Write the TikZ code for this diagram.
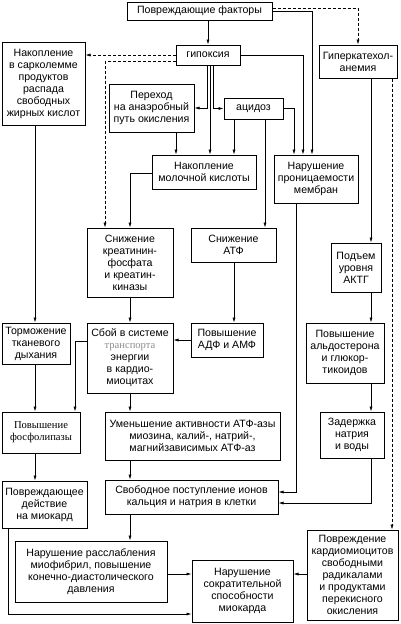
\documentclass[tikz,border=0pt]{standalone}
\usepackage{fontspec}
\setmainfont{Liberation Sans}
\newfontfamily\serifcyr{Liberation Serif}
\usepackage{xcolor}
\usepackage{tikz}
\usetikzlibrary{arrows.meta,positioning}
\tikzset{
	basic/.style = {draw, rectangle, line width=1pt, inner sep=0pt, align=center, font=\fontsize{10.6}{12}\selectfont},
	block/.style 2 args = {basic, minimum width=#1pt, minimum height=#2pt},
	link/.style = {->, line width=0.6pt},
	dlink/.style = {link, dash pattern=on 3pt off 2pt}
}
\newcommand{\grayword}[1]{{\serifcyr\color{black!45}#1}}

\begin{document}
\begin{tikzpicture}[x=1pt, y=-1pt, >={Latex[length=5pt,width=3pt]}]
	\useasboundingbox (0,0) rectangle (400,624);

	% top row
	\node[block={145}{18}] (pf) at (199.5,11) {Повреждающие факторы};
	\node[block={64}{20}] (gip) at (208,55) {гипоксия};
	\node[block={83}{83}] (sark) at (43.5,83.5) {Накопление\\в сарколемме\\продуктов\\распада\\свободных\\жирных кислот};
	\node[block={78}{33}] (giper) at (358,61.5) {Гиперкатехол-\\анемия};

	% hypoxia consequences
	\node[block={85}{48}] (anaer) at (151.5,108) {Переход\\на анаэробный\\путь окисления};
	\node[block={59}{21}] (acid) at (253.5,108.5) {ацидоз};
	\node[block={104}{34}] (moloch) at (204,172) {Накопление\\молочной кислоты};
	\node[block={84}{48}] (pron) at (316,179) {Нарушение\\проницаемости\\мембран};

	% energy block
	\node[block={86}{69}] (kreat) at (130,262.5) {Снижение\\креатинин-\\фосфата\\и креатин-\\киназы};
	\node[block={85}{34}] (atf) at (233.5,245) {Снижение\\АТФ};
	\node[block={50}{49}] (aktg) at (356,267.5) {Подъем\\уровня\\АКТГ};
	\node[block={68}{41}] (torm) at (36,343.5) {Торможение\\тканевого\\дыхания};
	\node[block={86}{70}] (sboy) at (130,358) {Сбой в системе\\\grayword{транспорта}\\энергии\\в кардио-\\миоцитах};
	\node[block={72}{34}] (adf) at (227,340) {Повышение\\АДФ и АМФ};
	\node[block={78}{60}] (aldo) at (345,353) {Повышение\\альдостерона\\и глюкор-\\тикоидов};

	% lower part
	\node[block={78}{41}, font=\serifcyr\fontsize{10.6}{12}\selectfont] (fosf) at (41,432.5) {Повышение\\фосфолипазы};
	\node[block={175}{48}] (umen) at (192.5,436) {Уменьшение активности АТФ-азы\\миозина, калий-, натрий-,\\магнийзависимых АТФ-аз};
	\node[block={64}{46}] (zader) at (352,435) {Задержка\\натрия\\и воды};
	\node[block={85}{47}] (povrd) at (44.5,504.5) {Повреждающее\\действие\\на миокард};
	\node[block={173}{34}] (svob) at (191.5,497) {Свободное поступление ионов\\кальция и натрия в клетки};
	\node[block={152}{61}] (rassl) at (91,571.5) {Нарушение расслабления\\миофибрил, повышение\\конечно-диастолического\\давления};
	\node[block={101}{62}] (sokr) at (242.5,591) {Нарушение\\сократительной\\способности\\миокарда};
	\node[block={91}{90}] (radik) at (352.5,575) {Повреждение\\кардиомиоцитов\\свободными\\радикалами\\и продуктами\\перекисного\\окисления};

	% connectors from the top
	\draw[link] (pf.south -| gip) -- (gip.north);
	\draw[dlink] (pf.east |- 0,8) -| (giper.north);
	\draw[link] (pf.east |- 0,11) -| (312,0 |- pron.north);
	\draw[link] (gip.east) -| (303,0 |- pron.north);
	\draw[link] (acid.east) -| (294,0 |- pron.north);
	\draw[dlink] (gip.west) -- (gip.west -| sark.east);
	\draw[dlink] (gip.west |- 0,61) -| (105,0 |- kreat.north);
	\draw[link] (207,0 |- gip.south) |- (anaer.east);
	\draw[link] (210,0 |- gip.south) -- (210,0 |- moloch.north);
	\draw[link] (213,0 |- gip.south) |- (acid.west);
	\draw[link] (176,0 |- anaer.south) -- (176,0 |- moloch.north);
	\draw[link] (234,0 |- acid.south) -- (234,0 |- moloch.north);
	\draw[link] (265,0 |- acid.south) -- (265,0 |- atf.north);
	\draw[link] (moloch.west |- 0,173) -| (kreat.north);

	% middle
	\draw[link] (kreat) -- (sboy);
	\draw[link] (234,0 |- atf.south) -- (234,0 |- adf.north);
	\draw[link] (adf.west) -- (adf.west -| sboy.east);
	\draw[link] (35,0 |- sark.south) -- (35,0 |- torm.north);
	\draw[link] (35,0 |- torm.south) -- (35,0 |- fosf.north);
	\draw[link] (sboy.west |- 0,341) -| (75,0 |- fosf.north);
	\draw[link] (sboy) -- (sboy |- umen.north);
	\draw[link] (35,0 |- fosf.south) -- (35,0 |- povrd.north);
	\draw[link] (130,0 |- umen.south) -- (130,0 |- svob.north);
	\draw[link] (296,0 |- pron.south) |- (svob.east |- 0,492);

	% right column
	\draw[link] (371,0 |- giper.south) -- (371,0 |- aktg.north);
	\draw[dlink] (392,0 |- giper.south) -- (392,0 |- radik.north);
	\draw[link] (371,0 |- aktg.south) -- (371,0 |- aldo.north);
	\draw[link] (371,0 |- aldo.south) -- (371,0 |- zader.north);
	\draw[link] (371,0 |- zader.south) |- (svob.east |- 0,503);

	% bottom
	\draw[link] (130,0 |- svob.south) -- (130,0 |- rassl.north);
	\draw[link] (rassl.east |- 0,574) -- (sokr.west |- 0,574);
	\draw[link] (8,0 |- povrd.south) |- (sokr.west |- 0,614);
	\draw[link] (radik.west |- 0,574) -- (sokr.east |- 0,574);
\end{tikzpicture}
\end{document}
